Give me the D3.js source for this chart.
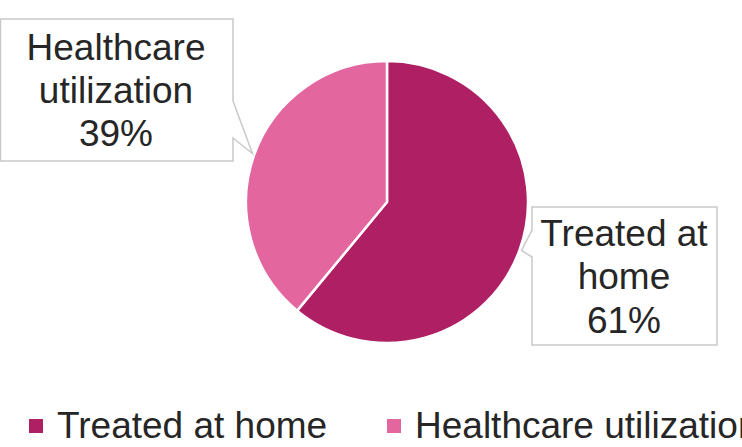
<!DOCTYPE html>
<html>
<head>
<meta charset="utf-8">
<script src="https://cdn.jsdelivr.net/npm/d3@7"></script>
<style>
  html, body { margin: 0; padding: 0; background: #fff; overflow: hidden; }
  svg { display: block; font-family: "Liberation Sans", Arial, sans-serif; }
</style>
</head>
<body>
<svg id="chart" width="742" height="447"></svg>
<script>
const categories = ["Treated at home", "Healthcare utilization"];
const values = [61, 39];
const labelLines = [["Treated at", "home"], ["Healthcare", "utilization"]];
const colors = ["#ae1f63", "#e3669f"];

const svg = d3.select("#chart");
const cx = 387, cy = 202, r = 141;

const pie = d3.pie().sort(null).value(d => d)(values);
const arc = d3.arc().innerRadius(0).outerRadius(r);
const tipArc = d3.arc().innerRadius(r + 2).outerRadius(r + 2);

const g = svg.append("g").attr("transform", `translate(${cx},${cy})`);
g.selectAll("path.slice").data(pie).enter().append("path")
  .attr("class", "slice")
  .attr("d", arc)
  .attr("fill", (d, i) => colors[i])
  .attr("stroke", "#fff")
  .attr("stroke-width", 2.5)
  .attr("stroke-linejoin", "round");

// callouts
function tipPoint(d) {
  const c = tipArc.centroid(d);
  return [cx + c[0], cy + c[1]];
}
const boxes = [
  { x0: 532, y0: 207, x1: 717, y1: 345, side: "left", b0: 230, b1: 257, tx: 624, base: [246, 289, 333] },
  { x0: 0.5, y0: 19, x1: 233, y1: 161, side: "right", b0: 101, b1: 138, tx: 116, base: [60, 103, 146] }
];
boxes.forEach((b, i) => {
  const t = tipPoint(pie[i]);
  let pts;
  if (b.side === "right") {
    pts = [[b.x0, b.y0], [b.x1, b.y0], [b.x1, b.b0], t, [b.x1, b.b1], [b.x1, b.y1], [b.x0, b.y1]];
  } else {
    pts = [[b.x0, b.y0], [b.x1, b.y0], [b.x1, b.y1], [b.x0, b.y1], [b.x0, b.b1], t, [b.x0, b.b0]];
  }
  svg.append("path")
    .attr("d", d3.line()(pts) + "Z")
    .attr("fill", "#fff")
    .attr("stroke", "#c9c9c9")
    .attr("stroke-width", 1.5);
  const lines = labelLines[i].concat([values[i] + "%"]);
  lines.forEach((ln, j) => {
    svg.append("text")
      .attr("x", b.tx).attr("y", b.base[j])
      .attr("text-anchor", "middle")
      .attr("font-size", 37)
      .attr("fill", "#262626")
      .text(ln);
  });
});

// legend
const legendX = [29, 387];
const lg = svg.selectAll("g.leg").data(categories).enter().append("g")
  .attr("class", "leg")
  .attr("transform", (d, i) => `translate(${legendX[i]},419)`);
lg.append("rect").attr("width", 14).attr("height", 14).attr("fill", (d, i) => colors[i]);
lg.append("text").attr("x", 28).attr("y", 19).attr("font-size", 37)
  .attr("fill", "#262626").text(d => d);
</script>
</body>
</html>
